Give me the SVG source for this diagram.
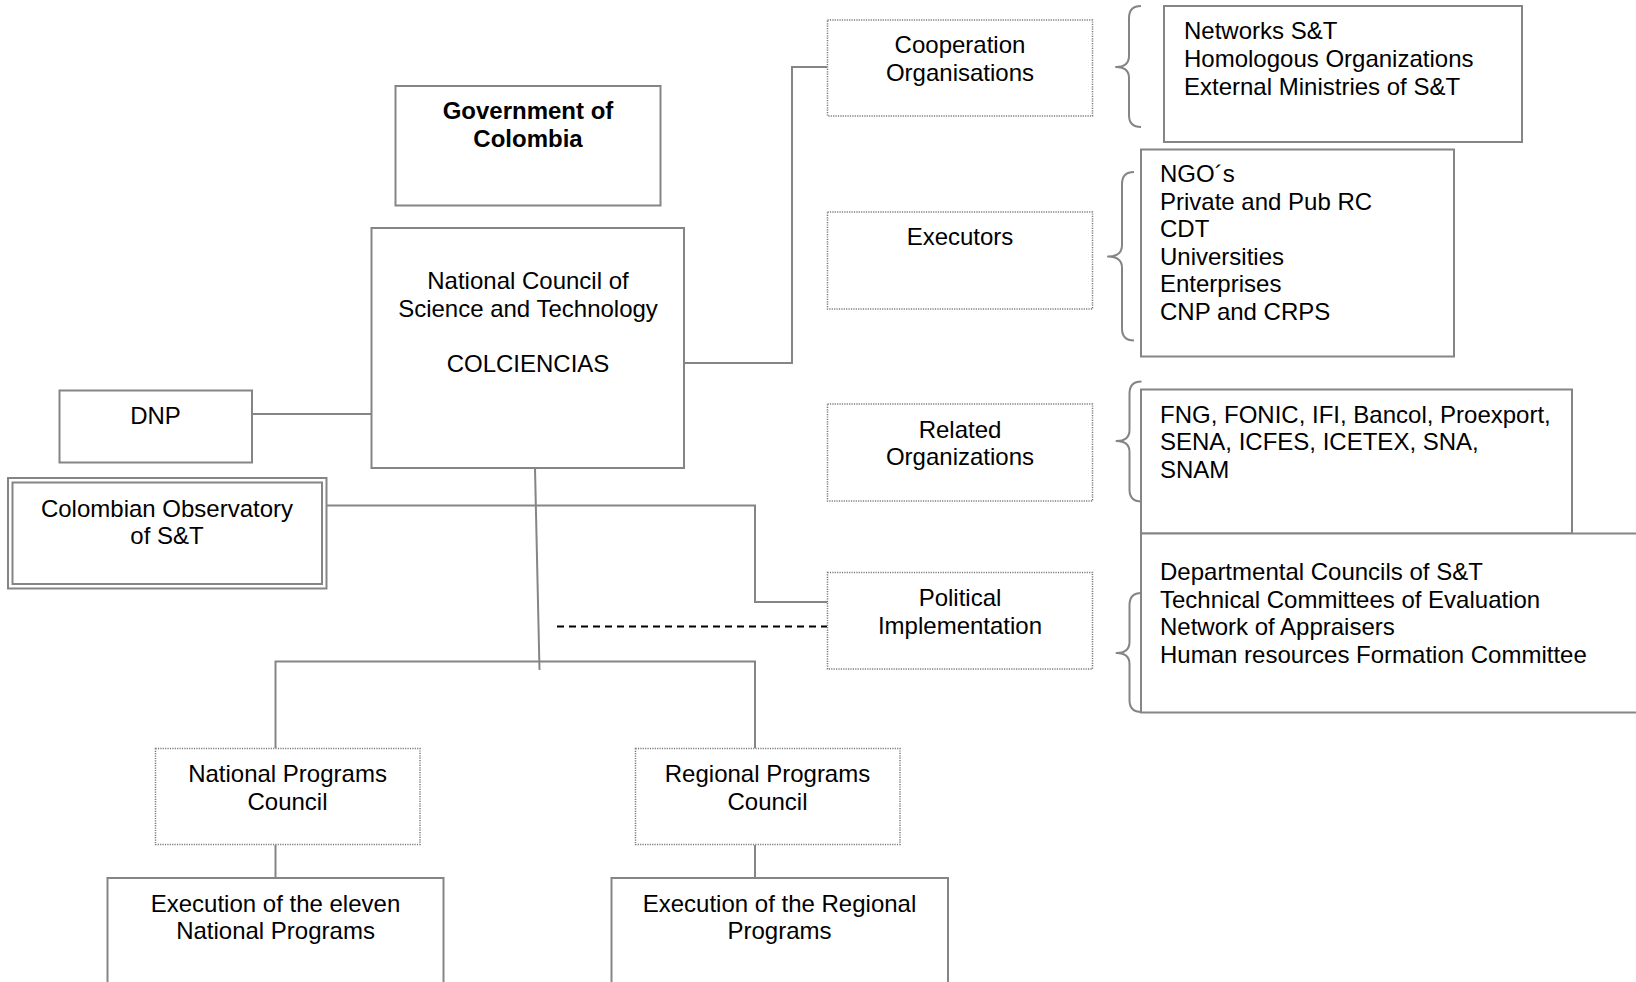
<svg xmlns="http://www.w3.org/2000/svg" width="1636" height="982" viewBox="0 0 1636 982">
<style>
  .box{fill:#fff;stroke:#858585;stroke-width:2}
  .dot{fill:#fff;stroke:#7a7a7a;stroke-width:1.5;stroke-dasharray:1.2 1.2}
  .ln{fill:none;stroke:#858585;stroke-width:2}
  .br{fill:none;stroke:#858585;stroke-width:2;stroke-linejoin:round}
  .dash{fill:none;stroke:#000;stroke-width:2;stroke-dasharray:7 5}
  text{font-family:"Liberation Sans",Arial,sans-serif;font-size:24px;fill:#000}
  .c{text-anchor:middle}
  .b{font-weight:bold}
</style>
<rect width="1636" height="982" fill="#fff"/>

<g id="connectors">
  <path class="ln" d="M252,414 H371"/>
  <path class="ln" d="M684,363 H792 V67 H827.5"/>
  <path class="ln" d="M326.5,505.5 H755 V602 H827.5"/>
  <path class="ln" d="M535,468 L539.5,670"/>
  <path class="ln" d="M275.5,748 V661.5 H755 V748"/>
  <path class="ln" d="M275.5,845 V878"/>
  <path class="ln" d="M755,845 V878"/>
  <path class="dash" d="M557,626.5 H827"/>
</g>

<g id="government">
  <rect class="box" x="395.5" y="86" width="265" height="119.5"/>
  <text class="c b" x="528" y="119">Government of</text>
  <text class="c b" x="528" y="147">Colombia</text>
</g>

<g id="national-council">
  <rect class="box" x="371.5" y="228" width="312.5" height="240"/>
  <text class="c" x="528" y="289">National Council of</text>
  <text class="c" x="528" y="316.5">Science and Technology</text>
  <text class="c" x="528" y="371.5">COLCIENCIAS</text>
</g>

<g id="dnp">
  <rect class="box" x="59.5" y="390.5" width="192.5" height="72"/>
  <text class="c" x="155.5" y="423.5">DNP</text>
</g>

<g id="observatory">
  <rect class="box" x="8" y="478" width="318.5" height="110.5"/>
  <rect class="box" x="12.5" y="482.5" width="309.5" height="101.5"/>
  <text class="c" x="167" y="517">Colombian Observatory</text>
  <text class="c" x="167" y="544">of S&amp;T</text>
</g>

<g id="cooperation">
  <rect class="dot" x="827.5" y="20" width="265" height="96"/>
  <text class="c" x="960" y="53">Cooperation</text>
  <text class="c" x="960" y="80.5">Organisations</text>
</g>

<g id="executors">
  <rect class="dot" x="827.5" y="212" width="265" height="97"/>
  <text class="c" x="960" y="245">Executors</text>
</g>

<g id="related">
  <rect class="dot" x="827.5" y="404" width="265" height="97"/>
  <text class="c" x="960" y="437.5">Related</text>
  <text class="c" x="960" y="465">Organizations</text>
</g>

<g id="political">
  <rect class="dot" x="827.5" y="572.5" width="265" height="96.5"/>
  <text class="c" x="960" y="606">Political</text>
  <text class="c" x="960" y="633.5">Implementation</text>
</g>

<g id="national-programs-council">
  <rect class="dot" x="155.5" y="748.5" width="264.5" height="96"/>
  <text class="c" x="287.5" y="782">National Programs</text>
  <text class="c" x="287.5" y="809.5">Council</text>
</g>

<g id="regional-programs-council">
  <rect class="dot" x="635.5" y="748.5" width="264.5" height="96"/>
  <text class="c" x="767.5" y="782">Regional Programs</text>
  <text class="c" x="767.5" y="809.5">Council</text>
</g>

<g id="exec-national">
  <rect class="box" x="107.5" y="878" width="336" height="120"/>
  <text class="c" x="275.5" y="912">Execution of the eleven</text>
  <text class="c" x="275.5" y="939">National Programs</text>
</g>

<g id="exec-regional">
  <rect class="box" x="611.5" y="878" width="336.5" height="120"/>
  <text class="c" x="779.5" y="912">Execution of the Regional</text>
  <text class="c" x="779.5" y="939">Programs</text>
</g>

<g id="braces">
  <path class="br" d="M1141,6 Q1129,6 1129,18 V56 Q1129,67 1116,67 Q1129,67 1129,78 V115 Q1129,127 1141,127"/>
  <path class="br" d="M1134,172 Q1122,172 1122,184 V245 Q1122,256.5 1108,256.5 Q1122,256.5 1122,268 V328.5 Q1122,340.5 1134,340.5"/>
  <path class="br" d="M1141.5,381.5 Q1129.5,381.5 1129.5,393.5 V430 Q1129.5,441 1116.5,441 Q1129.5,441 1129.5,452 V489.5 Q1129.5,501.5 1141.5,501.5"/>
  <path class="br" d="M1141.5,593 Q1129.5,593 1129.5,605 V642 Q1129.5,653 1116.5,653 Q1129.5,653 1129.5,664 V700 Q1129.5,712 1141.5,712"/>
</g>

<g id="networks-list">
  <rect class="box" x="1164" y="6" width="358" height="136"/>
  <text x="1184" y="38.5">Networks S&amp;T</text>
  <text x="1184" y="66.5">Homologous Organizations</text>
  <text x="1184" y="94.5">External Ministries of S&amp;T</text>
</g>

<g id="executors-list">
  <rect class="box" x="1141" y="149.5" width="313" height="207"/>
  <text x="1160" y="182">NGO´s</text>
  <text x="1160" y="209.5">Private and Pub RC</text>
  <text x="1160" y="237">CDT</text>
  <text x="1160" y="264.5">Universities</text>
  <text x="1160" y="292">Enterprises</text>
  <text x="1160" y="319.5">CNP and CRPS</text>
</g>

<g id="related-list">
  <rect class="box" x="1141" y="389.5" width="431" height="144"/>
  <text x="1160" y="422.5">FNG, FONIC, IFI, Bancol, Proexport,</text>
  <text x="1160" y="450">SENA, ICFES, ICETEX, SNA,</text>
  <text x="1160" y="477.5">SNAM</text>
</g>

<g id="political-list">
  <rect class="box" x="1141" y="533.5" width="520" height="179"/>
  <text x="1160" y="580">Departmental Councils of S&amp;T</text>
  <text x="1160" y="607.5">Technical Committees of Evaluation</text>
  <text x="1160" y="635">Network of Appraisers</text>
  <text x="1160" y="662.5">Human resources Formation Committee</text>
</g>
</svg>
